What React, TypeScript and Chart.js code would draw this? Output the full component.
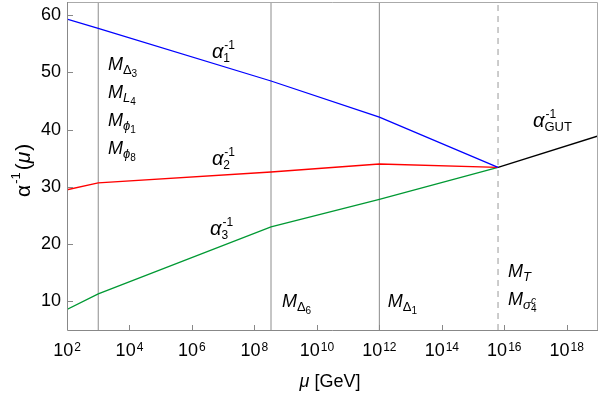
import { useEffect, useRef } from 'react';
import { Chart, registerables } from 'chart.js';

Chart.register(...registerables);

// ---- data ----
const muPoints = [1e2, 1e3, 3.4e8, 1e12, 6.3e15];
const alpha1Inv = [59.3, 57.7, 48.5, 42.2, 33.4];
const alpha2Inv = [29.5, 30.7, 32.6, 34.0, 33.4];
const alpha3Inv = [8.6, 11.3, 23.0, 27.8, 33.4];
const gutMu = [6.3e15, 1e19];
const gutAlphaInv = [33.4, 38.9];
const thresholdMu = [1e3, 3.4e8, 1e12];
const unificationMu = 6.3e15;
const xTickExponents = [2, 4, 6, 8, 10, 12, 14, 16, 18];
const yTickValues = [10, 20, 30, 40, 50, 60];
const xMin = 1e2;
const xMax = 1e19;
const yMin = 5;
const yMax = 62.3;

const FAM = '"Liberation Sans", Arial, Helvetica, sans-serif';
const font = (size: number, italic = false) => `${italic ? 'italic ' : ''}${size}px ${FAM}`;

function pts(xs: number[], ys: number[]) {
  return xs.map((x, i) => ({ x, y: ys[i] }));
}

function drawAlpha(ctx: CanvasRenderingContext2D, x: number, y: number, sub: string, subSize = 12) {
  ctx.font = font(20, true);
  ctx.fillText('α', x, y);
  const w = ctx.measureText('α').width;
  ctx.font = font(12);
  ctx.fillText('-1', x + w + 1, y - 9);
  ctx.font = font(subSize);
  ctx.fillText(sub, x + w, y + 4);
}

function drawM(
  ctx: CanvasRenderingContext2D,
  x: number,
  y: number,
  sub: string,
  subItalic: boolean,
  subsub: string,
  subsup = ''
) {
  ctx.font = font(18, true);
  ctx.fillText('M', x, y);
  const w = ctx.measureText('M').width;
  ctx.font = font(13, subItalic);
  ctx.fillText(sub, x + w, y + 4);
  const w2 = ctx.measureText(sub).width;
  ctx.font = font(10);
  if (subsub) ctx.fillText(subsub, x + w + w2, y + 7);
  if (subsup) {
    ctx.font = font(10, true);
    ctx.fillText(subsup, x + w + w2, y - 1);
  }
}

const decorPlugin = {
  id: 'decor',
  afterDraw(chart: any) {
    const ctx: CanvasRenderingContext2D = chart.ctx;
    const { left, right, top, bottom } = chart.chartArea;
    const xs = chart.scales.x;
    const ys = chart.scales.y;
    ctx.save();
    // frame
    ctx.lineWidth = 1;
    ctx.strokeStyle = '#aaaaaa';
    ctx.beginPath();
    ctx.moveTo(left, top + 0.5);
    ctx.lineTo(right - 0.5, top + 0.5);
    ctx.lineTo(right - 0.5, bottom);
    ctx.stroke();
    ctx.strokeStyle = '#888888';
    ctx.beginPath();
    ctx.moveTo(left + 0.5, top);
    ctx.lineTo(left + 0.5, bottom + 0.5);
    ctx.lineTo(right, bottom + 0.5);
    ctx.stroke();
    // inward ticks
    ctx.beginPath();
    for (const e of xTickExponents) {
      const px = Math.round(xs.getPixelForValue(Math.pow(10, e))) + 0.5;
      ctx.moveTo(px, bottom);
      ctx.lineTo(px, bottom - 5);
    }
    for (const v of yTickValues) {
      const py = Math.round(ys.getPixelForValue(v)) + 0.5;
      ctx.moveTo(left, py);
      ctx.lineTo(left + 6, py);
    }
    ctx.stroke();

    ctx.fillStyle = '#000';
    ctx.textBaseline = 'alphabetic';
    ctx.textAlign = 'left';
    // x tick labels 10^n
    for (const e of xTickExponents) {
      const px = xs.getPixelForValue(Math.pow(10, e));
      ctx.font = font(18);
      const wb = ctx.measureText('10').width;
      ctx.font = font(12);
      const we = ctx.measureText(String(e)).width;
      const x0 = px - (wb + we + 1) / 2;
      ctx.font = font(18);
      ctx.fillText('10', x0, 356);
      ctx.font = font(12);
      ctx.fillText(String(e), x0 + wb + 1, 351);
    }
    // x title
    {
      ctx.font = font(18, true);
      const w1 = ctx.measureText('μ').width;
      ctx.font = font(18);
      const w2 = ctx.measureText(' [GeV]').width;
      const x0 = 330 - (w1 + w2) / 2;
      ctx.font = font(18, true);
      ctx.fillText('μ', x0, 387);
      ctx.font = font(18);
      ctx.fillText(' [GeV]', x0 + w1, 387);
    }
    // y title (rotated)
    {
      ctx.save();
      ctx.translate(30, 197);
      ctx.rotate(-Math.PI / 2);
      let x = 0;
      ctx.font = font(21);
      ctx.fillText('α', x, 0);
      x += ctx.measureText('α').width + 1;
      ctx.font = font(13);
      ctx.fillText('-1', x, -10);
      x += ctx.measureText('-1').width + 2;
      ctx.font = font(21);
      ctx.fillText('(', x, 0);
      x += ctx.measureText('(').width;
      ctx.font = font(21, true);
      ctx.fillText('μ', x, 0);
      x += ctx.measureText('μ').width + 1;
      ctx.font = font(21);
      ctx.fillText(')', x, 0);
      ctx.restore();
    }
    // curve labels (anchored in data coordinates)
    const X = (lg: number) => xs.getPixelForValue(Math.pow(10, lg));
    const Y = (v: number) => ys.getPixelForValue(v);
    drawAlpha(ctx, X(6.64), Y(52.6), '1');
    drawAlpha(ctx, X(6.64), Y(33.8), '2');
    drawAlpha(ctx, X(6.58), Y(21.6), '3');
    drawAlpha(ctx, X(16.92), Y(40.4), 'GUT', 13);
    // threshold labels
    drawM(ctx, X(3.31), Y(50.4), 'Δ', false, '3');
    drawM(ctx, X(3.31), Y(45.5), 'L', true, '4');
    drawM(ctx, X(3.31), Y(40.6), 'ϕ', true, '1');
    drawM(ctx, X(3.31), Y(35.7), 'ϕ', true, '8');
    drawM(ctx, X(8.88), Y(9.0), 'Δ', false, '6');
    drawM(ctx, X(12.27), Y(9.0), 'Δ', false, '1');
    drawM(ctx, X(16.12), Y(14.2), 'T', true, '');
    drawM(ctx, X(16.12), Y(9.3), 'σ', true, '4', 'c');
    ctx.restore();
  },
};

export default function App() {
  const ref = useRef<HTMLCanvasElement>(null);
  useEffect(() => {
    document.body.style.margin = '0';
    const canvas = ref.current!;
    const vline = (mu: number) => [
      { x: mu, y: yMin },
      { x: mu, y: yMax },
    ];
    const curve = (data: any, color: string) => ({
      data,
      borderColor: color,
      borderWidth: 1.3,
      pointRadius: 0,
      fill: false,
      tension: 0,
      order: 0,
    });
    const datasets: any[] = [
      curve(pts(muPoints, alpha1Inv), '#0000ff'),
      curve(pts(muPoints, alpha2Inv), '#ff0000'),
      curve(pts(muPoints, alpha3Inv), '#009933'),
      curve(pts(gutMu, gutAlphaInv), '#000000'),
      ...thresholdMu.map((mu) => ({
        data: vline(mu),
        borderColor: '#8c8c8c',
        borderWidth: 1,
        pointRadius: 0,
        order: 5,
      })),
      {
        data: vline(unificationMu),
        borderColor: '#999999',
        borderWidth: 1,
        borderDash: [6, 5],
        pointRadius: 0,
        order: 5,
      },
    ];
    const chart = new Chart(canvas, {
      type: 'line',
      data: { datasets },
      options: {
        animation: false,
        responsive: false,
        parsing: false as any,
        layout: { padding: { top: 2, right: 1, left: 0, bottom: 0 } },
        plugins: { legend: { display: false }, tooltip: { enabled: false } },
        scales: {
          x: {
            type: 'logarithmic',
            min: xMin,
            max: xMax,
            ticks: { display: false },
            grid: { display: false },
            border: { display: false },
            afterBuildTicks: (s: any) => {
              s.ticks = xTickExponents.map((e) => ({ value: Math.pow(10, e) }));
            },
            afterFit: (s: any) => {
              s.height = 70;
              s.paddingLeft = 0;
              s.paddingRight = 0;
              s.paddingTop = 0;
              s.paddingBottom = 0;
            },
          },
          y: {
            type: 'linear',
            min: yMin,
            max: yMax,
            ticks: {
              color: '#000',
              font: { family: FAM, size: 18 },
              padding: 6,
            },
            grid: { drawOnChartArea: false, drawTicks: false },
            border: { display: false },
            afterBuildTicks: (s: any) => {
              s.ticks = yTickValues.map((v) => ({ value: v }));
            },
            afterFit: (s: any) => {
              s.width = 67;
              s.paddingLeft = 0;
              s.paddingRight = 0;
              s.paddingTop = 0;
              s.paddingBottom = 0;
            },
          },
        },
      },
      plugins: [decorPlugin],
    });
    return () => chart.destroy();
  }, []);
  return <canvas ref={ref} width={599} height={400} style={{ display: 'block' }} />;
}
